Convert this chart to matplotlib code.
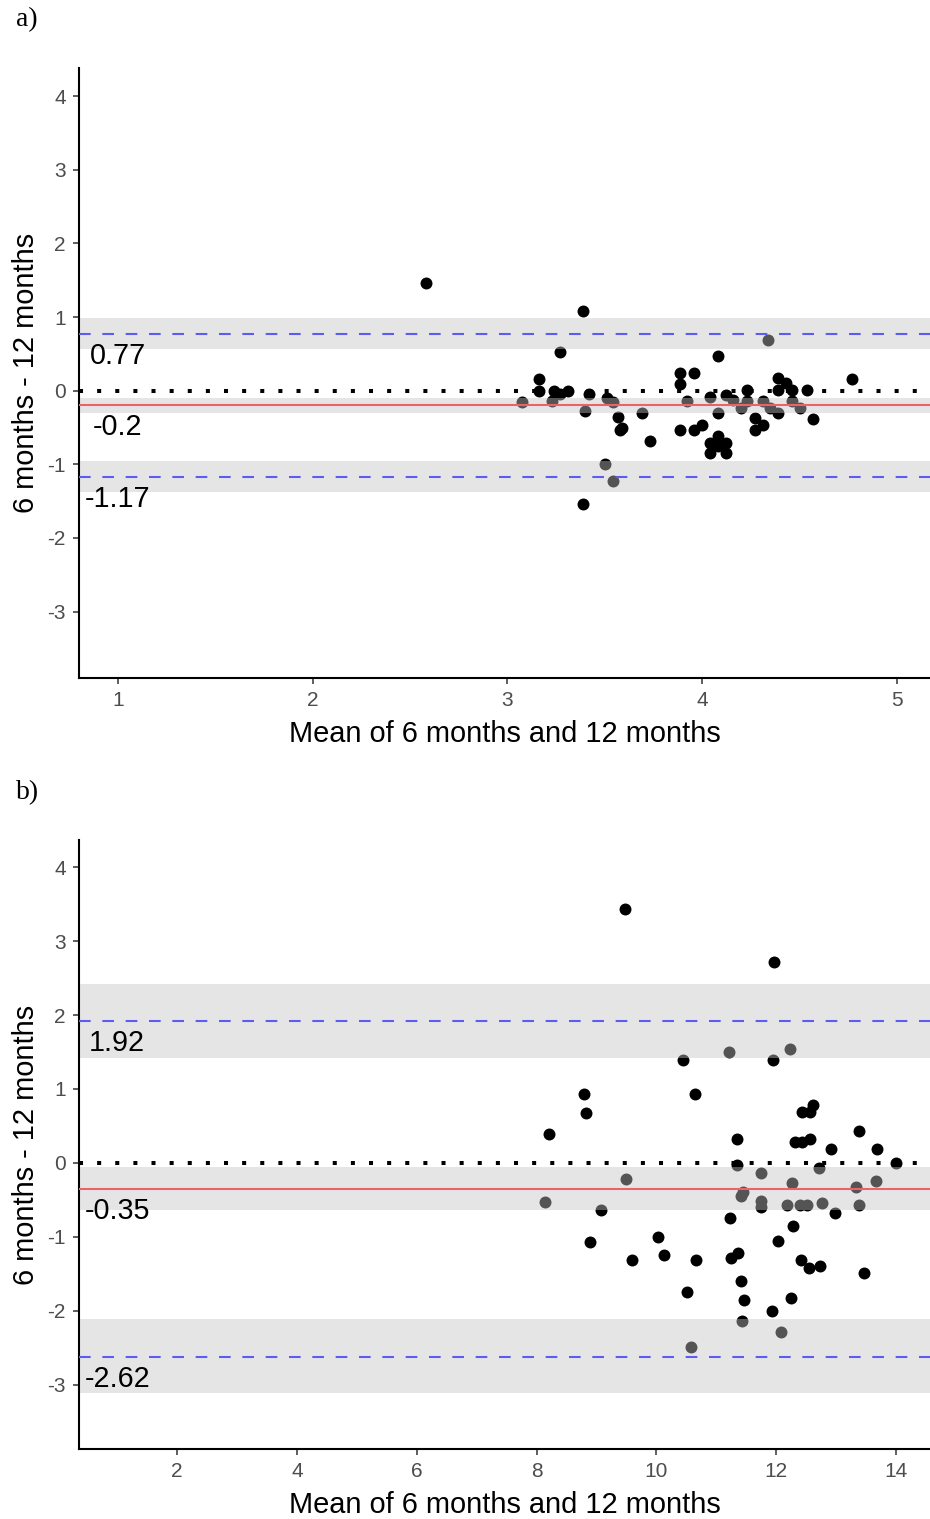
import matplotlib
matplotlib.use('Agg')
import matplotlib.pyplot as plt

plt.rcParams['font.family'] = ['Liberation Sans', 'DejaVu Sans']
plt.rcParams['axes.unicode_minus'] = False

# panel a) data
a_mean = [2.58, 3.39, 4.34, 3.27, 4.08, 3.885, 3.96, 3.16, 3.885, 4.39, 4.43, 4.46,
          4.39, 4.23, 4.54, 4.77, 3.16, 3.24, 3.27, 3.31, 3.075, 3.23, 3.42, 3.40,
          3.51, 3.54, 3.57, 3.58, 3.59, 3.69, 3.73, 3.92, 3.885, 3.96, 4.00, 4.04,
          4.12, 4.16, 4.20, 4.23, 4.08, 4.31, 4.35, 4.39, 4.46, 4.50, 4.57, 4.27,
          4.31, 4.27, 4.08, 4.04, 4.12, 4.04, 4.12, 4.08, 3.50, 3.54, 3.39]
a_diff = [1.465, 1.085, 0.69, 0.53, 0.47, 0.24, 0.24, 0.16, 0.095, 0.17, 0.10, 0.01,
          0.01, 0.01, 0.01, 0.16, -0.01, -0.01, -0.05, 0.0, -0.155, -0.145, -0.05, -0.28,
          -0.10, -0.15, -0.36, -0.53, -0.51, -0.30, -0.69, -0.145, -0.53, -0.53, -0.46, -0.08,
          -0.06, -0.12, -0.235, -0.145, -0.30, -0.145, -0.235, -0.30, -0.145, -0.235, -0.385, -0.37,
          -0.46, -0.53, -0.62, -0.71, -0.71, -0.85, -0.85, -0.755, -0.995, -1.23, -1.54]
a_bias = -0.2
a_loa = [-1.17, 0.77]
a_bands = [(0.57, 0.99), (-0.30, -0.095), (-1.38, -0.95)]

# panel b) data
b_mean = [9.48, 11.97, 10.45, 11.22, 11.95, 12.24, 8.80, 8.82, 8.21, 10.65, 11.35, 12.61,
          12.44, 12.56, 12.32, 12.44, 12.56, 12.91, 13.39, 13.69, 14.00, 11.35, 9.50, 8.14,
          9.08, 8.90, 10.03, 10.13, 9.59, 10.66, 10.52, 10.58, 11.75, 11.45, 11.42, 11.75,
          11.75, 12.26, 12.19, 12.40, 12.51, 12.72, 12.77, 12.98, 13.34, 13.67, 13.39, 13.47,
          11.23, 12.29, 12.04, 11.25, 11.37, 12.41, 12.55, 12.74, 11.41, 11.47, 12.25, 11.93,
          11.43, 12.08]
b_diff = [3.43, 2.71, 1.39, 1.50, 1.39, 1.54, 0.93, 0.68, 0.39, 0.93, 0.32, 0.79,
          0.685, 0.685, 0.29, 0.29, 0.32, 0.185, 0.43, 0.185, 0.0, -0.03, -0.21, -0.53,
          -0.64, -1.07, -1.0, -1.24, -1.31, -1.31, -1.75, -2.49, -0.14, -0.39, -0.45, -0.52,
          -0.59, -0.27, -0.57, -0.57, -0.57, -0.07, -0.54, -0.67, -0.32, -0.24, -0.57, -1.49,
          -0.75, -0.85, -1.06, -1.29, -1.21, -1.31, -1.42, -1.39, -1.59, -1.85, -1.82, -2.0,
          -2.14, -2.28]
b_bias = -0.35
b_loa = [-2.62, 1.92]
b_bands = [(1.42, 2.42), (-0.64, -0.05), (-3.11, -2.11)]

y_ticks = [-3, -2, -1, 0, 1, 2, 3, 4]
a_xticks = [1, 2, 3, 4, 5]
b_xticks = [2, 4, 6, 8, 10, 12, 14]


def bland_altman(ax, xs, ys, bias, loa, bands, xlim, ylim, xticks):
    ax.scatter(xs, ys, s=74, color='black', linewidths=0, zorder=1)
    # CI bands are drawn over the points (semi transparent grey)
    for lo, hi in bands:
        ax.axhspan(lo, hi, color=(0.77, 0.77, 0.77), alpha=0.43, lw=0, zorder=2)
    ax.axhline(0, color='black', lw=2.9, ls=(0, (1, 3.5)), dash_capstyle='butt', zorder=3)
    ax.axhline(bias, color='#e8636a', lw=1.5, zorder=3)
    for v in loa:
        ax.axhline(v, color='#5c5cf0', lw=1.5, ls=(0, (5.6, 5.6)), zorder=3)
    for v in [loa[1], bias, loa[0]]:
        ax.text(1, v - 0.3, str(v), ha='center', va='center', fontsize=20.7, zorder=4)

    ax.set_xlim(xlim)
    ax.set_ylim(ylim)
    ax.set_xticks(xticks)
    ax.set_yticks(y_ticks)
    ax.tick_params(colors='#333333', labelcolor='#4d4d4d', labelsize=15, length=4.5, width=1.1, pad=5)
    for side in ['top', 'right']:
        ax.spines[side].set_visible(False)
    for side in ['left', 'bottom']:
        ax.spines[side].set_linewidth(1.5)
        ax.spines[side].set_color('black')
    ax.set_xlabel('Mean of 6 months and 12 months', fontsize=20.9, labelpad=7)
    ax.set_ylabel('6 months - 12 months', fontsize=20.9, labelpad=5)


fig = plt.figure(figsize=(9.3, 15.19), dpi=100)
ax1 = fig.add_axes([0.0849, 0.5537, 0.9151, 0.4015])
ax2 = fig.add_axes([0.0849, 0.0461, 0.9151, 0.4009])

bland_altman(ax1, a_mean, a_diff, a_bias, a_loa, a_bands, (0.8, 5.17), (-3.9, 4.38), a_xticks)
bland_altman(ax2, b_mean, b_diff, b_bias, b_loa, b_bands, (0.36, 14.57), (-3.865, 4.365), b_xticks)

fig.text(0.017, 0.987, 'a)', family='Liberation Serif', fontsize=20, va='center')
fig.text(0.017, 0.478, 'b)', family='Liberation Serif', fontsize=20, va='center')

fig.savefig('out.png', dpi=100)
